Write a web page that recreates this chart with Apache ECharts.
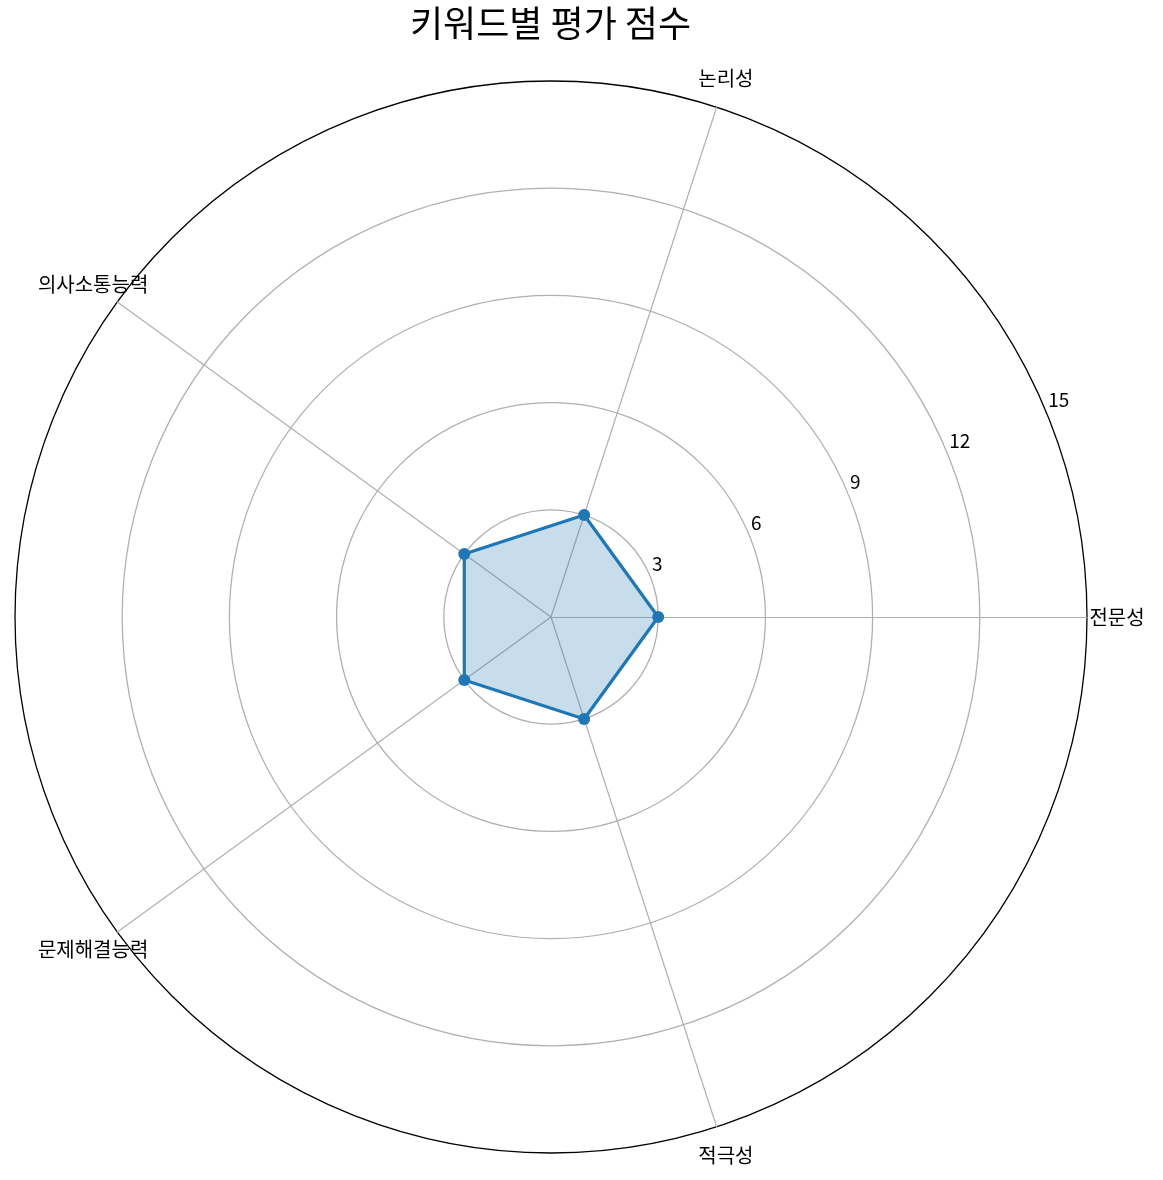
<!DOCTYPE html>
<html>
<head>
<meta charset="utf-8">
<script src="https://cdn.jsdelivr.net/npm/echarts@6/dist/echarts.min.js"></script>
<style>
  html, body { margin: 0; padding: 0; background: #ffffff; }
  #chart { width: 1163px; height: 1180px; }
</style>
</head>
<body>
<div id="chart"></div>
<script>
const categories = ['전문성', '논리성', '의사소통능력', '문제해결능력', '적극성'];
const scores = [3, 3, 3, 3, 3];
const radialTicks = [0, 3, 6, 9, 12, 15];
const seriesName = '평가 점수';

const FONT = '"Noto Sans CJK KR", "Noto Sans", sans-serif';
const CX = 551, CY = 617, R = 536;
const rMax = radialTicks[radialTicks.length - 1];
const rStep = radialTicks[1] - radialTicks[0];
const nRings = (rMax - radialTicks[0]) / rStep;
const ringColors = [];
for (let i = 0; i <= nRings; i++) ringColors.push(i === nRings ? '#000000' : '#b0b0b0');

const chart = echarts.init(document.getElementById('chart'), null, { renderer: 'canvas' });

const titleText = '키워드별 평가 점수';
const titleSize = 36;
// centre the title over the polar centre (not the page centre)
const titleWidth = echarts.format.getTextRect
  ? echarts.format.getTextRect(titleText, titleSize + 'px ' + FONT).width
  : 280;

const option = {
  backgroundColor: '#ffffff',
  animation: false,
  title: {
    text: titleText,
    left: Math.round(CX - titleWidth / 2),
    top: 5,
    padding: 0,
    textStyle: { fontFamily: FONT, fontSize: titleSize, fontWeight: 'normal', color: '#000000' }
  },
  radar: {
    center: [CX, CY],
    radius: R,
    startAngle: 0,
    shape: 'circle',
    splitNumber: nRings,
    indicator: categories.map(name => ({ name: name, min: radialTicks[0], max: rMax })),
    axisName: { color: '#000000', fontFamily: FONT, fontSize: 20, align: 'center', verticalAlign: 'middle' },
    nameGap: 30,
    axisLine: { show: true, lineStyle: { color: '#b0b0b0', width: 1.2 } },
    axisTick: { show: false },
    axisLabel: { show: false },
    splitLine: { show: true, lineStyle: { color: ringColors, width: 1.3 } },
    splitArea: { show: false }
  },
  polar: { center: [CX, CY], radius: R },
  angleAxis: {
    type: 'value', min: 0, max: 360, startAngle: 22.5,
    show: false
  },
  radiusAxis: {
    type: 'value', min: radialTicks[0], max: rMax, interval: rStep,
    axisLine: { show: false },
    axisTick: { show: false },
    splitLine: { show: false },
    axisLabel: {
      show: true, showMinLabel: false, margin: 0,
      align: 'left', verticalAlign: 'bottom',
      padding: [0, 0, 3, 2],
      color: '#000000', fontFamily: FONT, fontSize: 19
    }
  },
  series: [{
    name: seriesName,
    type: 'radar',
    symbol: 'circle',
    symbolSize: 12,
    lineStyle: { color: '#1f77b4', width: 3.2 },
    itemStyle: { color: '#1f77b4' },
    areaStyle: { color: 'rgba(31,119,180,0.25)', opacity: 1 },
    data: [{ value: scores, name: seriesName }]
  }]
};

chart.setOption(option);
</script>
</body>
</html>
